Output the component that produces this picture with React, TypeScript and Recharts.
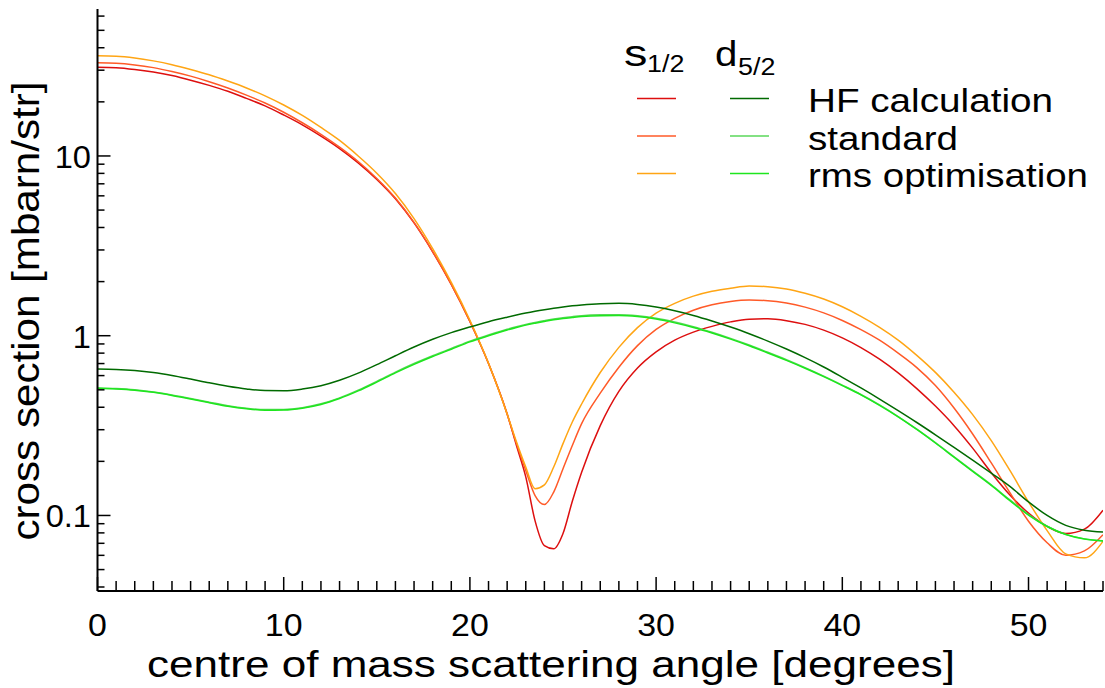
import { Line, LineChart, XAxis, YAxis } from 'recharts';

const theta = [
  0, 1, 2, 3, 4, 5, 6, 7, 8, 9, 10, 11, 12, 13, 14, 15, 16, 17, 18, 19, 20, 21, 22,
  22.5, 23, 23.5, 24, 24.5, 25, 25.5,
  26, 27, 28, 29, 30, 31, 32, 33, 34, 35, 36, 37, 38, 39, 40, 41, 42, 43, 44, 45, 46, 47, 48,
  49, 50, 51, 52, 53, 54,
];

// s1/2 cross sections [mbarn/str]
const s12HF = [
  31.2, 31.0, 30.3, 29.3, 28.0, 26.4, 24.7, 22.9, 20.9, 19.0, 16.9, 14.9, 12.9, 11.0, 9.16, 7.41,
  5.78, 4.24, 2.93, 1.93, 1.2, 0.7, 0.367,
  0.245, 0.164, 0.0933, 0.0679, 0.0652, 0.0794, 0.12,
  0.174, 0.316, 0.49, 0.661, 0.813, 0.944, 1.047, 1.127, 1.194, 1.236, 1.242, 1.213, 1.156, 1.074,
  0.973, 0.859, 0.74, 0.621, 0.508, 0.406, 0.316, 0.237, 0.173, 0.13, 0.103, 0.0869, 0.0793,
  0.0839, 0.107,
];
const s12Std = [
  33.0, 32.8, 32.1, 31.0, 29.5, 27.8, 25.9, 23.9, 21.8, 19.7, 17.5, 15.3, 13.2, 11.2, 9.31, 7.5,
  5.83, 4.27, 2.94, 1.93, 1.2, 0.7, 0.367,
  0.251, 0.178, 0.129, 0.115, 0.135, 0.182, 0.245,
  0.324, 0.479, 0.668, 0.881, 1.084, 1.25, 1.387, 1.486, 1.549, 1.578, 1.567, 1.521, 1.442, 1.34,
  1.216, 1.081, 0.944, 0.8, 0.665, 0.528, 0.396, 0.284, 0.196, 0.134, 0.0929, 0.0705, 0.06,
  0.0635, 0.0782,
];
const s12Rms = [
  36.1, 35.9, 35.1, 33.8, 32.2, 30.3, 28.3, 26.1, 23.9, 21.6, 19.2, 16.8, 14.4, 12.2, 10.0, 8.02,
  6.18, 4.48, 3.05, 1.98, 1.22, 0.703, 0.367,
  0.257, 0.186, 0.141, 0.148, 0.186, 0.251, 0.331,
  0.417, 0.624, 0.861, 1.109, 1.334, 1.514, 1.66, 1.766, 1.837, 1.892, 1.875, 1.82, 1.722, 1.6,
  1.449, 1.282, 1.114, 0.946, 0.778, 0.625, 0.485, 0.364, 0.261, 0.178, 0.119, 0.0824, 0.0611,
  0.0581, 0.0718,
];

// d5/2 cross sections [mbarn/str]
const d52HF = [
  0.652, 0.649, 0.64, 0.624, 0.601, 0.574, 0.547, 0.524, 0.506, 0.495, 0.494, 0.505, 0.527,
  0.565, 0.619, 0.69, 0.774, 0.865, 0.955, 1.04, 1.119, 1.197, 1.268,
  1.303, 1.337, 1.368, 1.396, 1.422, 1.445, 1.466,
  1.483, 1.507, 1.514, 1.493, 1.445, 1.377, 1.297, 1.208, 1.117, 1.026, 0.933, 0.843, 0.755,
  0.67, 0.587, 0.512, 0.444, 0.383, 0.329, 0.281, 0.239, 0.203, 0.172, 0.145, 0.119, 0.1,
  0.0881, 0.0828, 0.0809,
];
const d52Std = [
  0.512, 0.508, 0.5, 0.486, 0.468, 0.447, 0.427, 0.408, 0.395, 0.388, 0.389, 0.398, 0.418, 0.451,
  0.498, 0.557, 0.627, 0.7, 0.774, 0.849, 0.933, 1.009, 1.086,
  1.122, 1.156, 1.186, 1.213, 1.239, 1.259, 1.276,
  1.291, 1.306, 1.309, 1.291, 1.25, 1.191, 1.122, 1.045, 0.966, 0.887, 0.809, 0.735, 0.664,
  0.596, 0.531, 0.471, 0.412, 0.355, 0.302, 0.254, 0.212, 0.177, 0.148, 0.122, 0.101, 0.0871,
  0.0785, 0.0741, 0.0724,
];
const d52Rms = [
  0.51, 0.506, 0.498, 0.484, 0.465, 0.444, 0.424, 0.405, 0.392, 0.385, 0.386, 0.395, 0.414, 0.447,
  0.493, 0.552, 0.621, 0.693, 0.766, 0.841, 0.924, 0.999, 1.075,
  1.111, 1.145, 1.174, 1.201, 1.227, 1.247, 1.263,
  1.278, 1.293, 1.296, 1.278, 1.238, 1.179, 1.111, 1.035, 0.957, 0.879, 0.802, 0.729, 0.659,
  0.592, 0.528, 0.469, 0.41, 0.354, 0.301, 0.253, 0.211, 0.176, 0.147, 0.121, 0.1005, 0.0868,
  0.0783, 0.0739, 0.0722,
];

const xTicks = Array.from({ length: 55 }, (_, i) => i);
const yTicks = [
  0.04, 0.05, 0.06, 0.07, 0.08, 0.09, 0.1, 0.2, 0.3, 0.4, 0.5, 0.6, 0.7, 0.8, 0.9, 1, 2, 3, 4, 5,
  6, 7, 8, 9, 10, 20, 30, 40, 50, 60,
];
const yMajor = [0.1, 1, 10];
const yLabels: Record<number, string> = { 0.1: '0.1', 1: '1', 10: '10' };

const series = [
  { key: 's12HF', name: 'HF calculation', color: '#dd0f0f' },
  { key: 's12Std', name: 'standard', color: '#ff5a28' },
  { key: 's12Rms', name: 'rms optimisation', color: '#ffa514' },
  { key: 'd52HF', name: 'HF calculation', color: '#006a00' },
  { key: 'd52Std', name: 'standard', color: '#5ad75a' },
  { key: 'd52Rms', name: 'rms optimisation', color: '#1ee61e' },
];

const data = theta.map((t, i) => ({
  theta: t,
  s12HF: s12HF[i],
  s12Std: s12Std[i],
  s12Rms: s12Rms[i],
  d52HF: d52HF[i],
  d52Std: d52Std[i],
  d52Rms: d52Rms[i],
}));

const W = 1105;
const H = 688;
const LEFT = 97.5;
const RIGHT = 1103;
const TOP = 9;
const BOTTOM = 591;
const FONT = '"Liberation Sans", Arial, Helvetica, sans-serif';

function BottomTick({ x, payload }: any) {
  const major = payload.value % 10 === 0;
  return (
    <g>
      <line x1={x} x2={x} y1={BOTTOM} y2={BOTTOM - (major ? 14 : 10)} stroke="#000" strokeWidth={1.5} />
      {major ? (
        <text
          transform={`translate(${x},636) scale(1.06,1)`}
          textAnchor="middle"
          fontSize={32}
          fontFamily={FONT}
          fill="#000"
        >
          {payload.value}
        </text>
      ) : null}
    </g>
  );
}

function TopTick({ x, payload }: any) {
  const major = payload.value % 10 === 0;
  return <line x1={x} x2={x} y1={TOP} y2={TOP + (major ? 14 : 10)} stroke="#000" strokeWidth={1.5} />;
}

function LeftTick({ y, payload }: any) {
  const major = yMajor.includes(payload.value);
  return (
    <g>
      <line x1={LEFT} x2={LEFT + (major ? 13 : 7)} y1={y} y2={y} stroke="#000" strokeWidth={1.5} />
      {major ? (
        <text
          transform={`translate(91,${y + 12}) scale(1.02,1)`}
          textAnchor="end"
          fontSize={32}
          fontFamily={FONT}
          fill="#000"
        >
          {yLabels[payload.value]}
        </text>
      ) : null}
    </g>
  );
}

function RightTick({ y, payload }: any) {
  const major = yMajor.includes(payload.value);
  return <line x1={RIGHT} x2={RIGHT - (major ? 14 : 7)} y1={y} y2={y} stroke="#000" strokeWidth={1.5} />;
}

const legendRows = [
  { label: 'HF calculation', y: 98.5, base: 112, len: 245, s: series[0].color, d: series[3].color },
  { label: 'standard', y: 136, base: 150, len: 150, s: series[1].color, d: series[4].color },
  { label: 'rms optimisation', y: 173.5, base: 187, len: 280, s: series[2].color, d: series[5].color },
];

export default function App() {
  return (
    <div style={{ position: 'absolute', left: 0, top: 0, width: W, height: H, background: '#fff' }}>
      <LineChart width={W} height={H} data={data} margin={{ top: TOP, right: W - RIGHT, bottom: 0, left: 0 }}>
        <XAxis
          xAxisId="bottom"
          dataKey="theta"
          type="number"
          domain={[0, 54]}
          ticks={xTicks}
          interval={0}
          allowDataOverflow
          height={H - BOTTOM}
          axisLine={{ stroke: '#000', strokeWidth: 2 }}
          tickLine={false}
          tick={<BottomTick />}
        />
        <XAxis
          xAxisId="top"
          orientation="top"
          dataKey="theta"
          type="number"
          domain={[0, 54]}
          ticks={xTicks}
          interval={0}
          allowDataOverflow
          height={0}
          axisLine={{ stroke: '#000', strokeWidth: 2 }}
          tickLine={false}
          tick={<TopTick />}
        />
        <YAxis
          yAxisId="left"
          scale="log"
          type="number"
          domain={[0.038, 65.7]}
          ticks={yTicks}
          interval={0}
          allowDataOverflow
          width={LEFT}
          axisLine={{ stroke: '#000', strokeWidth: 2 }}
          tickLine={false}
          tick={<LeftTick />}
        />
        <YAxis
          yAxisId="right"
          orientation="right"
          scale="log"
          type="number"
          domain={[0.038, 65.7]}
          ticks={yTicks}
          interval={0}
          allowDataOverflow
          width={0}
          axisLine={{ stroke: '#000', strokeWidth: 2 }}
          tickLine={false}
          tick={<RightTick />}
        />
        {series.map((s) => (
          <Line
            key={s.key}
            xAxisId="bottom"
            yAxisId="left"
            dataKey={s.key}
            type="monotone"
            stroke={s.color}
            strokeWidth={1.5}
            dot={false}
            activeDot={false}
            isAnimationActive={false}
          />
        ))}
      </LineChart>
      <svg
        width={W}
        height={H}
        style={{ position: 'absolute', left: 0, top: 0, pointerEvents: 'none' }}
        fontFamily={FONT}
      >
        <text
          transform="translate(39,311) rotate(-90)"
          textAnchor="middle"
          fontSize={38}
          textLength={459}
          lengthAdjust="spacingAndGlyphs"
        >
          cross section [mbarn/str]
        </text>
        <text x={147} y={677} fontSize={37} textLength={808} lengthAdjust="spacingAndGlyphs">
          centre of mass scattering angle [degrees]
        </text>
        <text transform="translate(624,66) scale(1.3,1)" fontSize={36}>
          s
        </text>
        <text transform="translate(647,72) scale(1.12,1)" fontSize={24}>
          1/2
        </text>
        <text transform="translate(715,66) scale(1.15,1)" fontSize={35}>
          d
        </text>
        <text transform="translate(738,75) scale(1.12,1)" fontSize={24}>
          5/2
        </text>
        {legendRows.map((r) => (
          <g key={r.label}>
            <line x1={637} x2={676} y1={r.y} y2={r.y} stroke={r.s} strokeWidth={1.5} />
            <line x1={730} x2={769} y1={r.y} y2={r.y} stroke={r.d} strokeWidth={1.5} />
            <text x={808} y={r.base} fontSize={33} textLength={r.len} lengthAdjust="spacingAndGlyphs">
              {r.label}
            </text>
          </g>
        ))}
      </svg>
    </div>
  );
}
